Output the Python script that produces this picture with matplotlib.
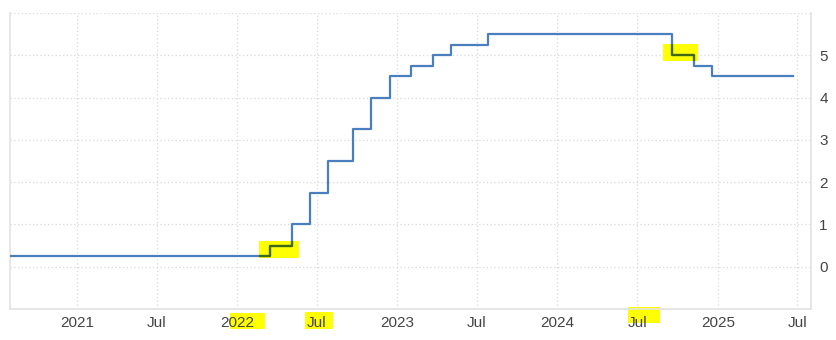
import matplotlib
matplotlib.use("Agg")
import matplotlib.pyplot as plt
import matplotlib.dates as mdates
from matplotlib.patches import Rectangle
import pandas as pd

# policy rate (upper bound), step changes
change_dates = ["2020-08-01", "2022-03-17", "2022-05-05", "2022-06-16", "2022-07-28",
                "2022-09-22", "2022-11-03", "2022-12-15", "2023-02-02", "2023-03-23",
                "2023-05-04", "2023-07-27", "2024-09-19", "2024-11-08", "2024-12-19",
                "2025-06-20"]
rates = [0.25, 0.5, 1.0, 1.75, 2.5, 3.25, 4.0, 4.5, 4.75, 5.0, 5.25, 5.5, 5.0, 4.75, 4.5, 4.5]

y_ticks = [0, 1, 2, 3, 4, 5]

dates = pd.to_datetime(change_dates)

W, H = 836, 340
fig = plt.figure(figsize=(W / 100, H / 100), dpi=100)
ax = fig.add_axes([10 / W, 1 - 309 / H, 801 / W, 296 / H])

line_col = "#4a7fbf"
ax.step(dates, rates, where="post", color=line_col, lw=1.6, zorder=3)

ax.set_xlim(pd.Timestamp("2020-08-01"), pd.Timestamp("2025-08-01"))
ax.set_ylim(-1, 6)

# highlighter marks on the line (drawn under, line darkened inside them)
marks = [(pd.Timestamp("2022-02-20"), 0.21, pd.Timestamp("2022-05-21"), 0.6),
         (pd.Timestamp("2024-08-29"), 4.87, pd.Timestamp("2024-11-16"), 5.26)]
for x0, y0, x1, y1 in marks:
    xa, xb = mdates.date2num(x0), mdates.date2num(x1)
    r = Rectangle((xa, y0), xb - xa, y1 - y0, facecolor="#ffff00",
                  edgecolor="none", zorder=1.8)
    ax.add_patch(r)
    dark, = ax.step(dates, rates, where="post", color="#3f6a12", lw=1.6, zorder=3.5)
    dark.set_clip_path(r)

# highlighter marks on tick labels (pixel boxes)
label_marks = [(230, 313, 265, 329), (305, 312, 333, 329), (628, 307, 660, 323)]
for x0, y0, x1, y1 in label_marks:
    ax.add_patch(Rectangle((x0 / W, 1 - y1 / H), (x1 - x0) / W, (y1 - y0) / H,
                           transform=fig.transFigure, facecolor="#ffff00",
                           edgecolor="none", clip_on=False, zorder=1))

ax.xaxis.set_major_locator(mdates.MonthLocator(bymonth=[1, 7]))
ax.xaxis.set_major_formatter(
    plt.FuncFormatter(lambda v, p: mdates.num2date(v).strftime("%Y")
                      if mdates.num2date(v).month == 1 else "Jul"))

ax.yaxis.tick_right()
ax.set_yticks([-1] + y_ticks + [6])
ax.set_yticklabels([""] + [str(t) for t in y_ticks] + [""])

ax.grid(True, color="#d9d9d9", ls=(0, (1, 2)), lw=0.9)
for s in ["left", "right", "bottom"]:
    ax.spines[s].set_color("#e2e2e2")
    ax.spines[s].set_linewidth(1.2)
ax.spines["top"].set_visible(False)

ax.tick_params(axis="both", length=0, labelsize=11, labelcolor="#444444")
ax.tick_params(axis="x", pad=5)
ax.tick_params(axis="y", pad=6)
for t in ax.get_xticklabels() + ax.get_yticklabels():
    t.set_fontfamily("Liberation Sans")

fig.savefig("out.png", dpi=100)
